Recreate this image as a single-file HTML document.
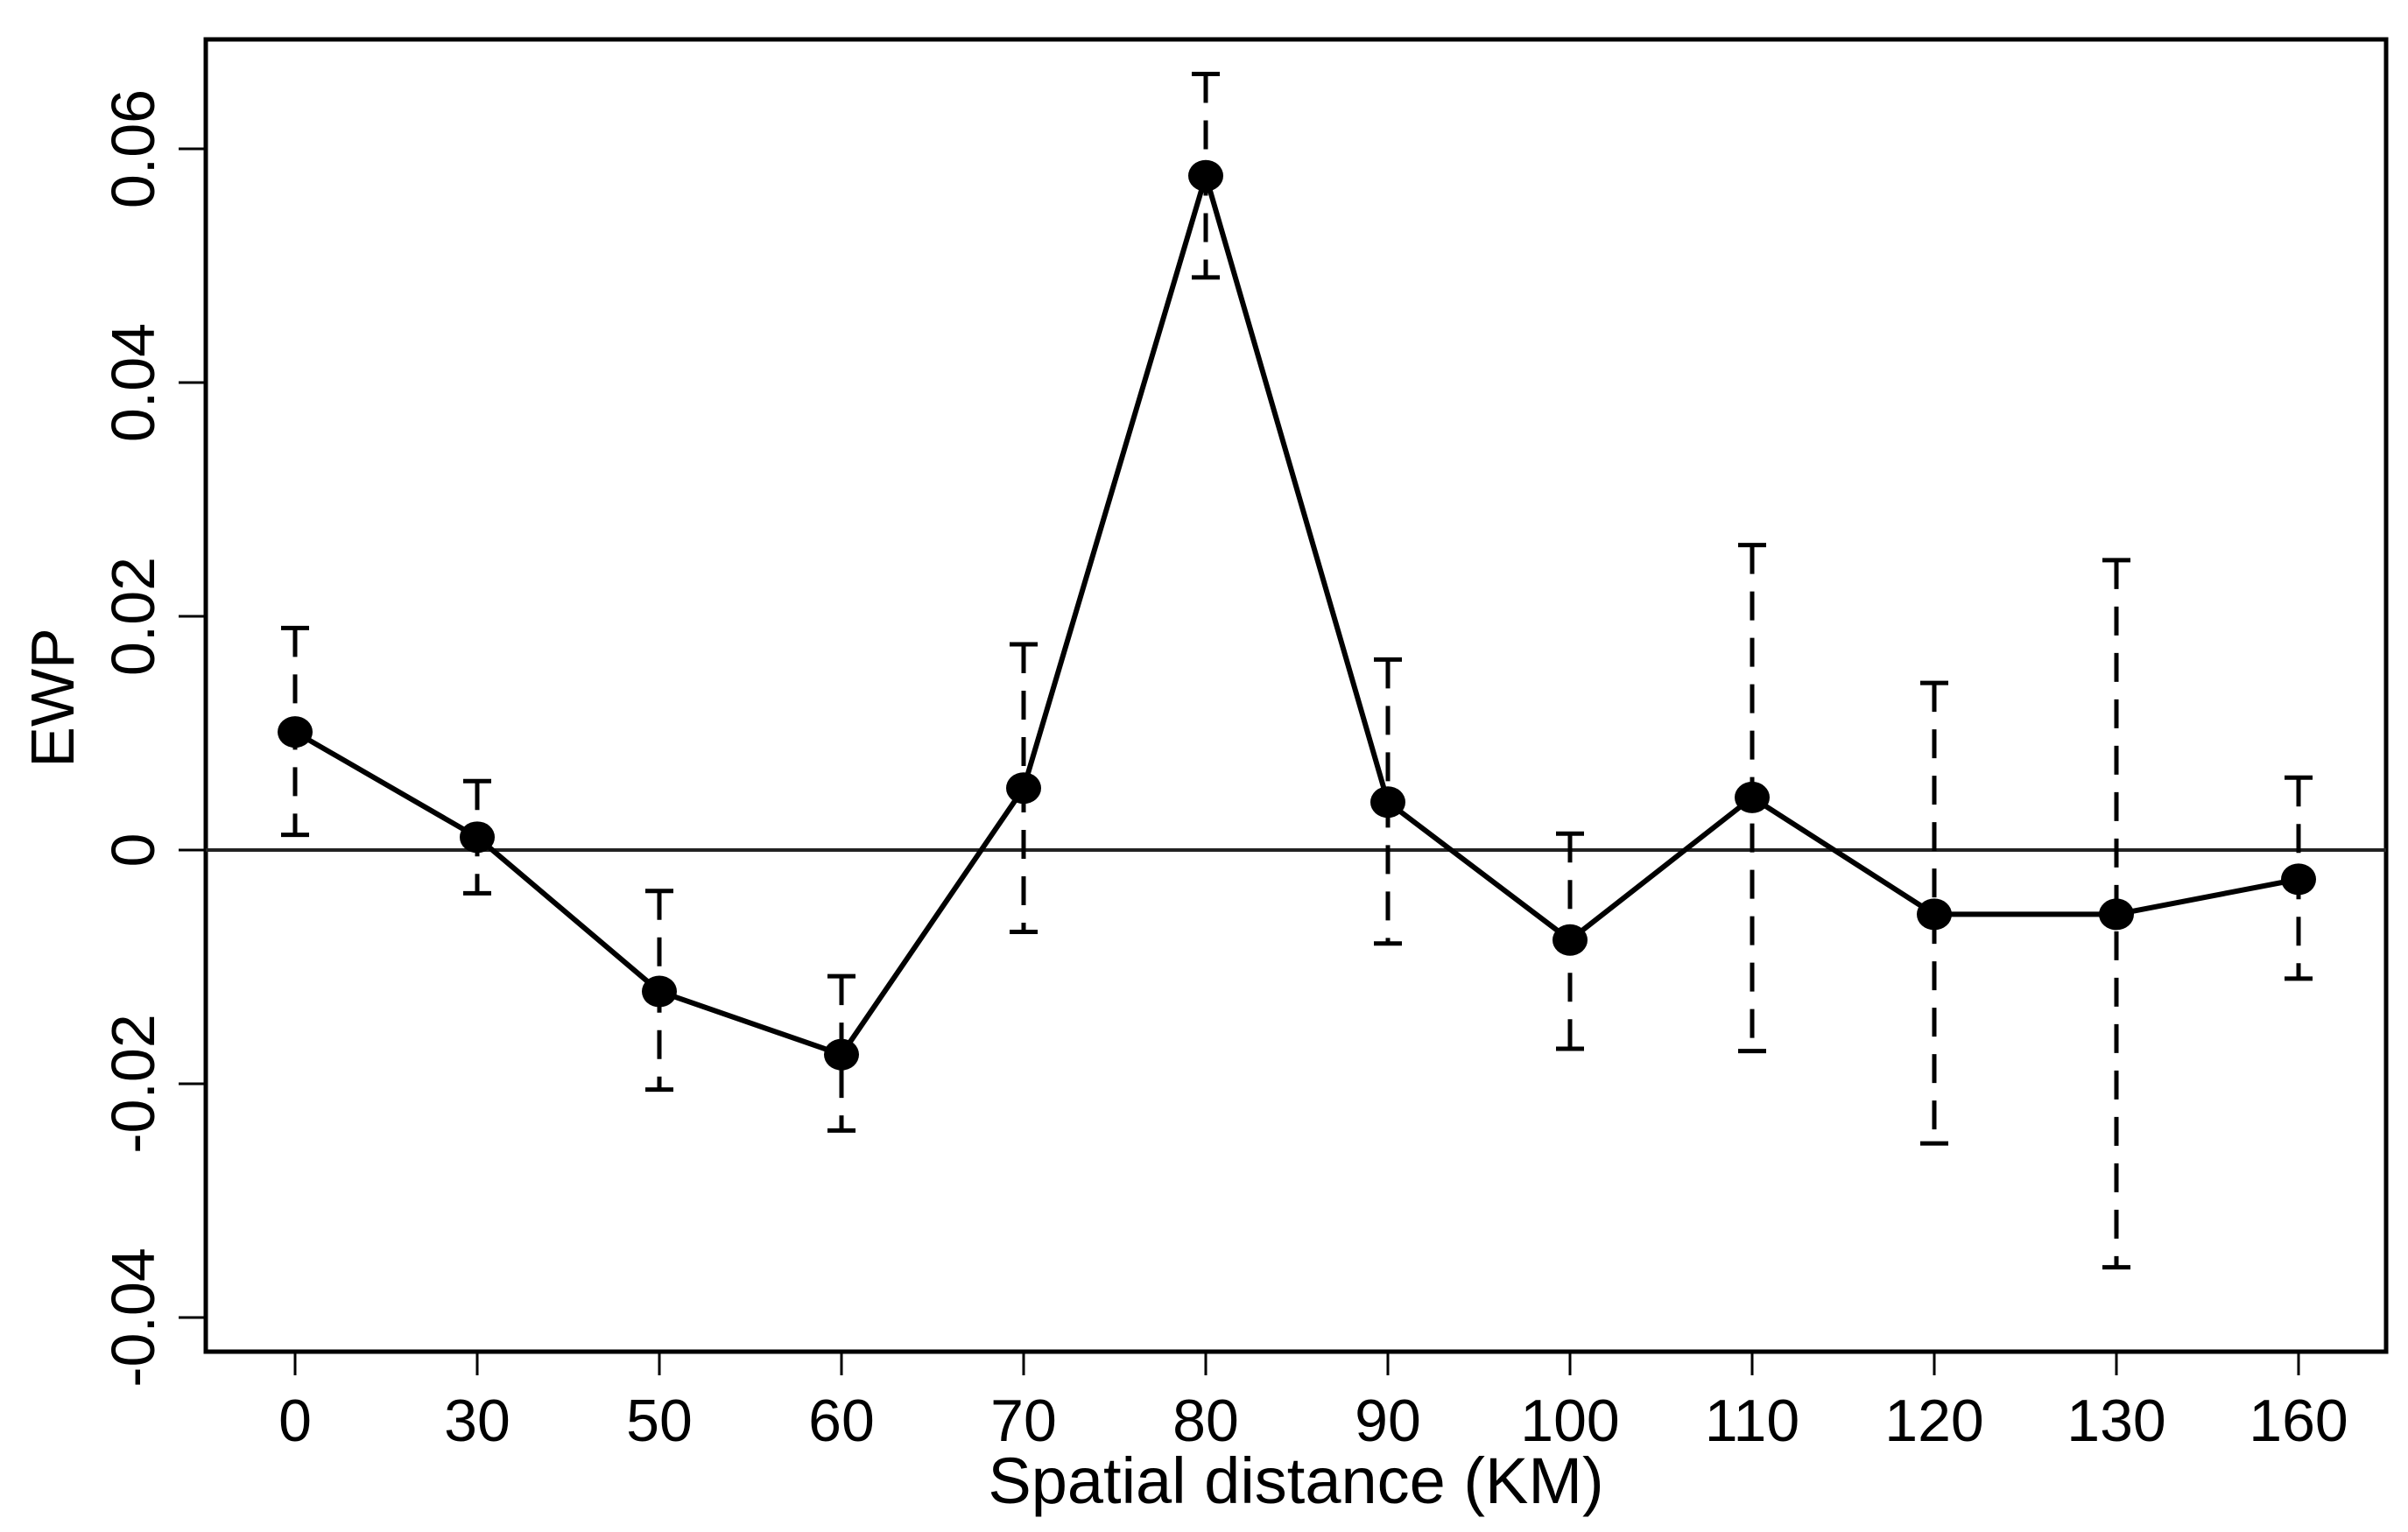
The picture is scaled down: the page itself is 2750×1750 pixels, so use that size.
<!DOCTYPE html>
<html><head><meta charset="utf-8"><style>
html,body{margin:0;padding:0;background:#fff;}
svg{display:block;font-family:"Liberation Sans",Arial,sans-serif;}
</style></head><body>
<svg id="chart" width="2750" height="1750" viewBox="0 0 2750 1750" xmlns="http://www.w3.org/2000/svg">
<rect x="0" y="0" width="2750" height="1750" fill="#fff"/>
<g id="plot"></g>
<text x="1480" y="1717" font-size="74" text-anchor="middle">Spatial distance (KM)</text>
<text transform="translate(84,797) rotate(-90)" font-size="70" text-anchor="middle">EWP</text>
</svg>
<script>
const categories = ["0","30","50","60","70","80","90","100","110","120","130","160"];
const ewpValues = [0.0101,0.0011,-0.0121,-0.0175,0.0053,0.0577,0.0041,-0.0077,0.0045,-0.0055,-0.0055,-0.0025];
const upperCI = [0.0190,0.0059,-0.0035,-0.0108,0.0176,0.0664,0.0163,0.0014,0.0261,0.0143,0.0248,0.0062];
const lowerCI = [0.0013,-0.0037,-0.0205,-0.0240,-0.0070,0.0490,-0.0080,-0.0170,-0.0172,-0.0251,-0.0357,-0.0110];
const yTicks = [-0.04,-0.02,0,0.02,0.04,0.06];
const yTickLabels = ["-0.04","-0.02","0","0.02","0.04","0.06"];

const NS = "http://www.w3.org/2000/svg";
const g = document.getElementById("plot");
const L = 235, R = 2725, T = 45, B = 1544;
function xScale(i){ return 337 + i * 208; }
function yScale(v){ return 971 - v * 13350; }
function mk(tag, attrs){ const e = document.createElementNS(NS, tag); for (const k in attrs) e.setAttribute(k, attrs[k]); g.appendChild(e); return e; }

let e = mk("rect", {x:L, y:T, width:R-L, height:B-T, fill:"none", stroke:"#000", "stroke-width":5});



e = mk("line", {x1:L, x2:R, y1:yScale(0), y2:yScale(0), stroke:"#222", "stroke-width":4});



yTicks.forEach((v, i) => {
  const y = yScale(v);
  let t = mk("line", {x1:L-31, x2:L, y1:y, y2:y, stroke:"#000", "stroke-width":3});
  
  
  let tx = mk("text", {transform:`translate(176,${y}) rotate(-90)`, "font-size":70, "text-anchor":"middle"});
  tx.textContent = yTickLabels[i];
  
  
});

categories.forEach((c, i) => {
  const x = xScale(i);
  let t = mk("line", {x1:x, x2:x, y1:B, y2:B+27, stroke:"#000", "stroke-width":3});
  
  
  let tx = mk("text", {x:x, y:1646, "font-size":68, "text-anchor":"middle"});
  tx.textContent = c;
  
  
});

categories.forEach((c, i) => {
  const x = xScale(i), yu = yScale(upperCI[i]), yl = yScale(lowerCI[i]);
  let l = mk("line", {x1:x, x2:x, y1:yu, y2:yl, stroke:"#000", "stroke-width":5, "stroke-dasharray":"33 20"});
  
  
  let c1 = mk("line", {x1:x-16, x2:x+16, y1:yu, y2:yu, stroke:"#000", "stroke-width":5});
  
  
  let c2 = mk("line", {x1:x-16, x2:x+16, y1:yl, y2:yl, stroke:"#000", "stroke-width":5});
  
  
});

const pts = ewpValues.map((v, i) => xScale(i) + "," + yScale(v)).join(" ");
e = mk("polyline", {points:pts, fill:"none", stroke:"#000", "stroke-width":6, "stroke-linejoin":"round"});



ewpValues.forEach((v, i) => {
  let p = mk("ellipse", {cx:xScale(i), cy:yScale(v), rx:20, ry:18, fill:"#000"});
  
  
});
</script>
</body></html>
